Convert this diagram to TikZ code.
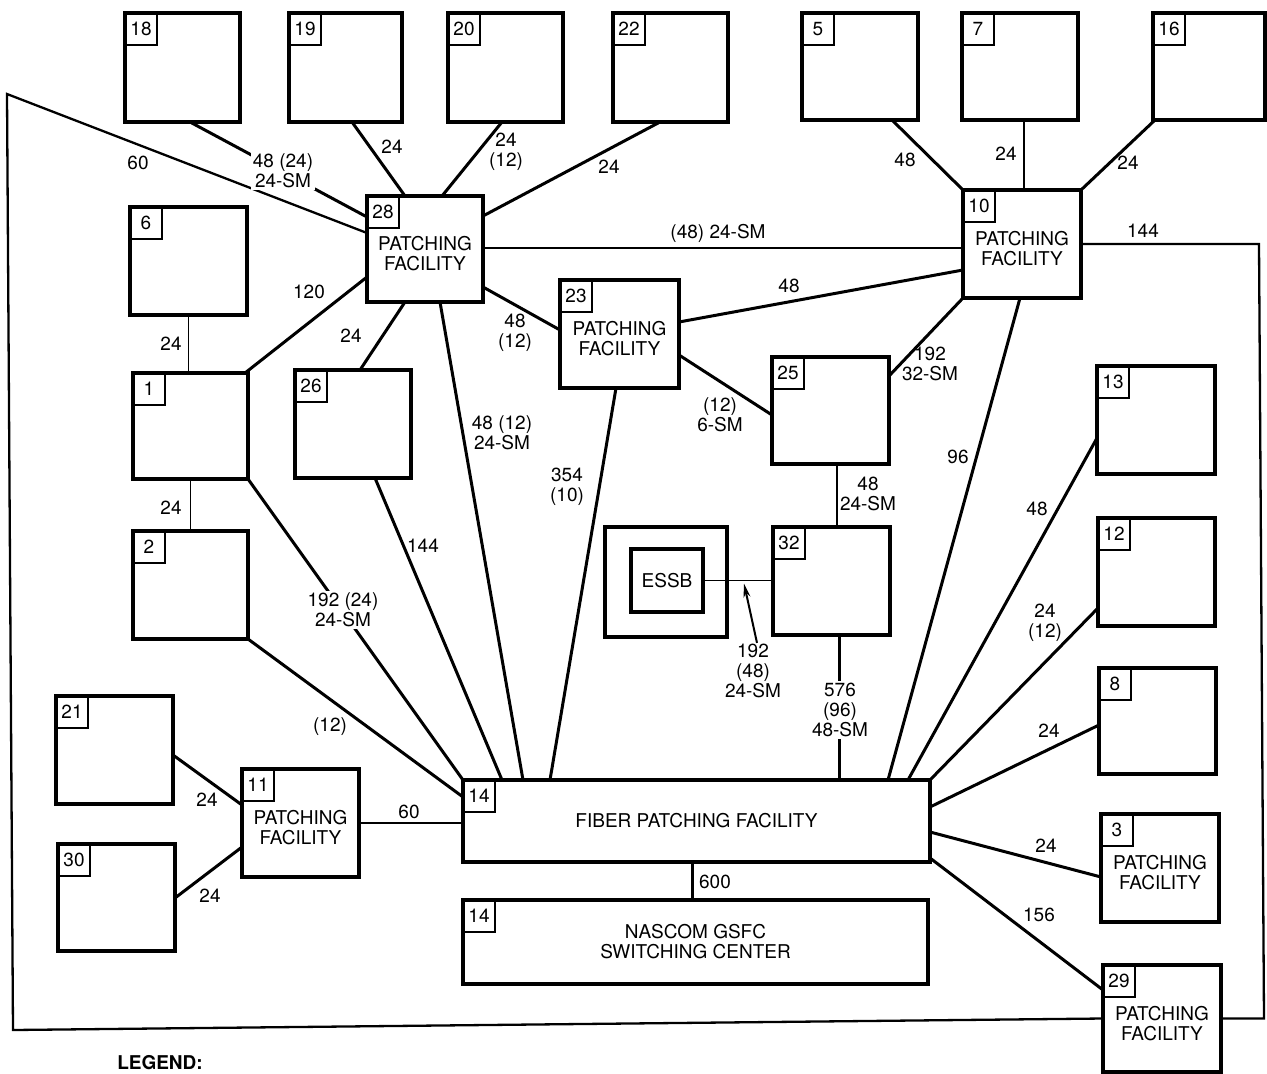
\documentclass[tikz,border=0pt]{standalone}
\usepackage{fontspec}
\setmainfont{TeX Gyre Heros}
\usetikzlibrary{arrows.meta}
\newcommand{\lab}{\fontsize{19}{20}\selectfont}
\tikzset{
 bigbox/.style={draw, line width=3.5pt, inner sep=0pt, outer sep=0pt},
 numbox/.style={draw, line width=2.8pt, inner sep=0pt, outer sep=0pt, minimum size=32pt, anchor=north west, font=\lab},
 conn/.style={line width=3pt},
 midconn/.style={line width=2.3pt},
 thinconn/.style={line width=1.7pt},
 lbl/.style={font=\lab, align=center, inner sep=1pt},
 wlbl/.style={lbl, fill=white, inner sep=2pt},
 ftext/.style={font=\lab, align=center, inner sep=0pt},
}
\newcommand{\mybox}[6]{%
 \pgfmathsetmacro{\mbw}{#4-#2}\pgfmathsetmacro{\mbh}{#5-#3}%
 \node[bigbox, minimum width=\mbw pt, minimum height=\mbh pt, anchor=north west] (#1) at (#2,#3) {};%
 \node[numbox] (n#1) at (#1.north west) {#6};}
\begin{document}
\begin{tikzpicture}[x=1pt,y=-1pt]
\useasboundingbox (0,0) rectangle (1267,1074);
% boxes
\mybox{b18}{125}{13}{240}{122}{18}
\mybox{b19}{289}{13}{402}{122}{19}
\mybox{b20}{448}{13}{563}{122}{20}
\mybox{b22}{613}{13}{728}{122}{22}
\mybox{b5}{802}{13}{918}{120}{5}
\mybox{b7}{962}{13}{1078}{120}{7}
\mybox{b16}{1153}{13}{1265}{120}{16}
\mybox{b28}{367}{196}{483}{302}{28}
\mybox{b6}{130}{207}{247}{315}{6}
\mybox{b1}{133}{373}{248}{479}{1}
\mybox{b2}{133}{531}{248}{639}{2}
\mybox{b26}{295}{370}{411}{478}{26}
\mybox{b23}{560}{280}{679}{388}{23}
\mybox{b10}{963}{190}{1081}{298}{10}
\mybox{b25}{772}{357}{889}{464}{25}
\mybox{b32}{773}{527}{890}{635}{32}
\mybox{b13}{1097}{366}{1215}{474}{13}
\mybox{b12}{1098}{518}{1215}{626}{12}
\mybox{b8}{1099}{668}{1216}{774}{8}
\mybox{b3}{1101}{814}{1219}{922}{3}
\mybox{b29}{1103}{965}{1221}{1072}{29}
\mybox{b14}{463}{780}{930}{862}{14}
\mybox{b14n}{463}{900}{928}{984}{14}
\mybox{b11}{242}{769}{359}{877}{11}
\mybox{b21}{56}{696}{173}{804}{21}
\mybox{b30}{58}{844}{175}{951}{30}
\node[bigbox, minimum width=122pt, minimum height=110pt, anchor=north west] (essbo) at (605,527) {};
\node[bigbox, minimum width=72pt, minimum height=63pt, anchor=north west, font=\lab] (essb) at (631,549) {ESSB};
% texts in boxes
\node[ftext] (t28) at ([yshift=-5pt]b28.center) {PATCHING\\FACILITY};
\node[ftext] (t23) at ([yshift=-5pt]b23.center) {PATCHING\\FACILITY};
\node[ftext] (t10) at ([yshift=-5pt]b10.center) {PATCHING\\FACILITY};
\node[ftext] (t11) at ([yshift=-5pt]b11.center) {PATCHING\\FACILITY};
\node[ftext] (t3) at ([yshift=-5pt]b3.center) {PATCHING\\FACILITY};
\node[ftext] (t29) at ([yshift=-5pt]b29.center) {PATCHING\\FACILITY};
\node[ftext] (t14) at (b14.center) {FIBER PATCHING FACILITY};
\node[ftext] (t14n) at (b14n.center) {NASCOM GSFC\\SWITCHING CENTER};
% outer loop
\coordinate (tl) at (7,94);
\coordinate (bl) at (13,1030);
\coordinate (tr) at (1259,244);
\coordinate (br) at (1264,1018.5);
\draw[midconn] ([yshift=-37pt]b28.north west) -- (tl) -- (bl) -- (b29.west);
\draw[midconn] (b10.east) -- (tr) -- (br) -- (b29.east);
% connectors
\draw[conn] ([xshift=65pt]b18.south west) -- ([yshift=-21pt]b28.north west);
\draw[conn] ([xshift=63pt]b19.south west) -- ([xshift=38pt]b28.north west);
\draw[conn] ([xshift=54pt]b20.south west) -- ([xshift=75pt]b28.north west);
\draw[conn] ([yshift=-20pt]b28.north east) -- ([xshift=47pt]b22.south west);
\draw[thinconn] (b6.south) -- (b6.south |- b1.north);
\draw[conn] ([xshift=-3pt]b1.north east) -- ([yshift=25pt]b28.south west);
\draw[thinconn] (b1.south) -- (b1.south |- b2.north);
\draw[conn] (b1.south east) -- (b14.north west);
\draw[conn] (b2.south east) -- ([yshift=-17pt]b14.north west);
\draw[conn] ([xshift=80pt]b26.south west) -- ([xshift=39pt]b14.north west);
\draw[conn] ([xshift=38pt]b28.south west) -- ([xshift=65pt]b26.north west);
\draw[conn] ([xshift=73pt]b28.south west) -- ([xshift=60pt]b14.north west);
\draw[conn] ([yshift=15pt]b28.south east) -- ([yshift=-50pt]b23.north west);
\draw[midconn] ([yshift=-52pt]b28.north east) -- ([yshift=-52pt]b28.north east -| b10.west);
\draw[conn] ([yshift=-42pt]b23.north east) -- ([yshift=-80pt]b10.north west);
\draw[conn] ([yshift=-75pt]b23.north east) -- ([yshift=-58pt]b25.north west);
\draw[conn] ([xshift=56pt]b23.south west) -- ([xshift=87pt]b14.north west);
\draw[conn] (b10.south west) -- ([yshift=-19pt]b25.north east);
\draw[conn] ([xshift=57pt]b10.south west) -- ([xshift=-42pt]b14.north east);
\draw[thinconn] ([xshift=65pt]b25.south west) -- ([xshift=65pt]b25.south west |- b32.north);
\draw[conn] ([xshift=66pt]b32.south west) -- ([xshift=66pt]b32.south west |- b14.north);
\draw[thinconn] (essb.east) -- (essb.east -| b32.west);
\draw[conn] ([xshift=90pt]b5.south west) -- (b10.north west);
\draw[thinconn] ([xshift=62pt]b7.south west) -- ([xshift=62pt]b7.south west |- b10.north);
\draw[conn] ([xshift=2pt]b16.south west) -- (b10.north east);
\draw[conn] ([yshift=-72pt]b13.north west) -- ([xshift=-22pt]b14.north east);
\draw[conn] ([yshift=-90pt]b12.north west) -- (b14.north east);
\draw[conn] ([yshift=-57pt]b8.north west) -- ([yshift=-27pt]b14.north east);
\draw[conn] ([yshift=-52pt]b14.north east) -- ([yshift=-63pt]b3.north west);
\draw[conn] ([yshift=4pt]b14.south east) -- ([yshift=-25pt]b29.north west);
\draw[conn] ([yshift=-59pt]b21.north east) -- ([yshift=-36pt]b11.north west);
\draw[conn] ([yshift=-54pt]b30.north east) -- ([yshift=-78pt]b11.north west);
\draw[midconn] (b11.east) -- (b11.east -| b14.west);
\draw[conn] ([xshift=229pt]b14.south west) -- ([xshift=229pt]b14.south west |- b14n.north);
% labels
\node[lbl] (l60a) at (138,163) {60};
\node[wlbl] (l18) at (283,171) {48 (24)\\24-SM};
\node[lbl] (l19) at (392,147) {24};
\node[lbl] (l20) at (506,152) {24\\(12)};
\node[lbl] (l22) at (609,167) {24};
\node[lbl] (l6) at (171,344) {24};
\node[lbl] (l120) at (309,292) {120};
\node[lbl] (l12a) at (171,508) {24};
\node[wlbl] (l192a) at (343,610) {192 (24)\\24-SM};
\node[lbl] (l12b) at (330,727) {(12)};
\node[lbl] (l144a) at (423,546) {144};
\node[lbl] (l24b) at (351,336) {24};
\node[lbl] (l48c) at (502,433) {48 (12)\\24-SM};
\node[lbl] (l48d) at (515,333) {48\\(12)};
\node[lbl] (l48e) at (718,233) {(48) 24-SM};
\node[lbl] (l48f) at (789,286) {48};
\node[lbl] (l12c) at (720,415) {(12)\\6-SM};
\node[lbl] (l354) at (567,487) {354\\(10)};
\node[lbl] (l192b) at (930,364) {192\\32-SM};
\node[lbl] (l96) at (958,457) {96};
\node[lbl] (l48g) at (868,494) {48\\24-SM};
\node[wlbl] (l576) at (840,710) {576\\(96)\\48-SM};
\node[lbl] (l192c) at (753,671) {192\\(48)\\24-SM};
\node[lbl] (l48h) at (905,160) {48};
\node[lbl] (l24c) at (1006,154) {24};
\node[lbl] (l24d) at (1128,163) {24};
\node[lbl] (l144b) at (1143,231) {144};
\node[lbl] (l48i) at (1037,509) {48};
\node[lbl] (l24e) at (1045,623) {24\\(12)};
\node[lbl] (l24f) at (1049,731) {24};
\node[lbl] (l24g) at (1046,846) {24};
\node[lbl] (l156) at (1039,915) {156};
\node[lbl] (l24h) at (207,800) {24};
\node[lbl] (l24i) at (210,896) {24};
\node[lbl] (l60b) at (409,812) {60};
\node[lbl] (l600) at (715,882) {600};
\node[lbl, font=\lab\bfseries] (legend) at (160,1063) {LEGEND:};
% arrow
\coordinate (arrtip) at ([xshift=41pt,yshift=-3pt]essb.east);
\draw[line width=2pt, -{Stealth[length=14pt,width=7pt]}] ([xshift=4pt]l192c.north) -- (arrtip);
\end{tikzpicture}
\end{document}
